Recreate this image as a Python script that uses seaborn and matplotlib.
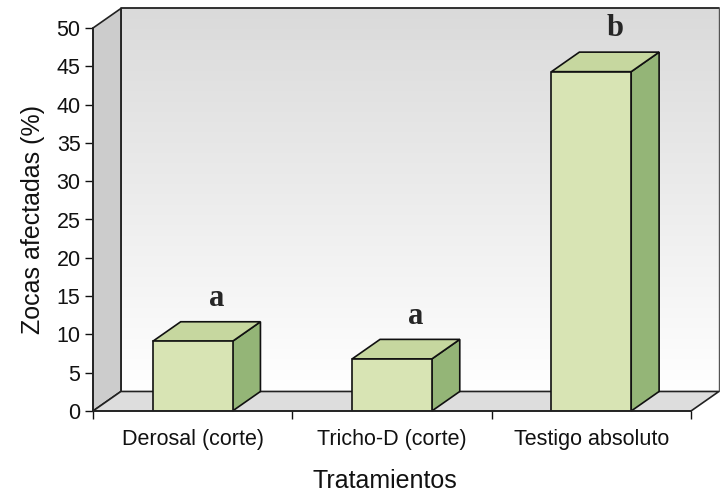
import numpy as np
import matplotlib
matplotlib.use('Agg')
import matplotlib.pyplot as plt
import seaborn as sns
from matplotlib.patches import Polygon
from matplotlib.colors import LinearSegmentedColormap

# Datos del grafico
tratamientos = ['Derosal (corte)', 'Tricho-D (corte)', 'Testigo absoluto']
zocas = [9.1, 6.8, 44.3]
letras = ['a', 'a', 'b']

sns.set_theme(style='white')
plt.rcParams['font.family'] = ['Liberation Sans', 'DejaVu Sans']

fig = plt.figure(figsize=(7.2, 4.97), dpi=100)
ax = fig.add_axes([93 / 720, 86 / 497, 598 / 720, 383 / 497])

# profundidad del efecto 3D (en unidades de datos)
dx, dy = 0.14, 2.55
x0, x1, ymax = -0.5, 2.5, 50

# pared del fondo con degradado
cmap = LinearSegmentedColormap.from_list('pared', ['#ffffff', '#dadada'])
grad = np.linspace(0, 1, 256).reshape(-1, 1)
im = ax.imshow(grad, extent=(x0 + dx, x1 + dx, dy, ymax + dy), origin='lower',
               aspect='auto', cmap=cmap, zorder=0)
im.set_clip_on(False)
ax.plot([x0 + dx, x0 + dx, x1 + dx], [dy, ymax + dy, ymax + dy], color='#222222',
        lw=1.3, clip_on=False, zorder=1)
ax.plot([x1 + dx, x1 + dx], [dy, ymax + dy], color='#555555', lw=1.0, clip_on=False, zorder=1)

# pared izquierda
ax.add_patch(Polygon([(x0, 0), (x0 + dx, dy), (x0 + dx, ymax + dy), (x0, ymax)],
                     closed=True, facecolor='#cccccc', edgecolor='#222222', lw=1.2,
                     clip_on=False, zorder=1))
# piso
ax.add_patch(Polygon([(x0, 0), (x1, 0), (x1 + dx, dy), (x0 + dx, dy)],
                     closed=True, facecolor='#dddddd', edgecolor='#222222', lw=1.2,
                     clip_on=False, zorder=1))

# barras (cara frontal con seaborn)
sns.barplot(x=tratamientos, y=zocas, width=0.4, color='#d8e4b4', saturation=1,
            edgecolor='#111111', linewidth=1.2, ax=ax, zorder=3)

for p in ax.patches:
    if not hasattr(p, 'get_width') or p.get_height() <= 0 or p.get_zorder() != 3:
        continue
    bx, bw, bh = p.get_x(), p.get_width(), p.get_height()
    lado = Polygon([(bx + bw, 0), (bx + bw + dx, dy), (bx + bw + dx, bh + dy), (bx + bw, bh)],
                   closed=True, facecolor='#94b577', edgecolor='#111111', lw=1.2,
                   clip_on=False, zorder=2.5)
    techo = Polygon([(bx, bh), (bx + dx, bh + dy), (bx + bw + dx, bh + dy), (bx + bw, bh)],
                    closed=True, facecolor='#c6d79f', edgecolor='#111111', lw=1.2,
                    clip_on=False, zorder=2.5)
    ax.add_patch(lado)
    ax.add_patch(techo)

for i, (v, l) in enumerate(zip(zocas, letras)):
    ax.text(i + 0.12, v + 5.6, l, ha='center', va='center', fontsize=22,
            fontweight='bold', family=['Liberation Serif', 'DejaVu Serif'], zorder=5)

ax.set_xlim(x0, x1)
ax.set_ylim(0, ymax)
ax.set_yticks(range(0, 51, 5))
ax.set_xticks([0, 1, 2])
ax.set_xticks([-0.5, 0.5, 1.5, 2.5], minor=True)
ax.set_xticklabels(tratamientos, fontsize=15.5, color='#111111')
ax.tick_params(axis='y', labelsize=15.5, length=6, width=1, color='#111111',
               left=True, pad=3, labelcolor='#111111')
ax.tick_params(axis='x', which='major', length=0, pad=13)
ax.tick_params(axis='x', which='minor', length=6, width=1, color='#111111', bottom=True)

for s in ['top', 'right']:
    ax.spines[s].set_visible(False)
for s in ['left', 'bottom']:
    ax.spines[s].set_color('#222222')
    ax.spines[s].set_linewidth(1.2)
    ax.spines[s].set_zorder(4)

ax.set_xlabel('Tratamientos', fontsize=18, color='#111111')
ax.xaxis.set_label_coords(0.488, -0.152)
ax.set_ylabel('Zocas afectadas (%)', fontsize=18, labelpad=8, color='#111111')
ax.set_facecolor('none')

fig.savefig('out.png', dpi=100, facecolor='white')
